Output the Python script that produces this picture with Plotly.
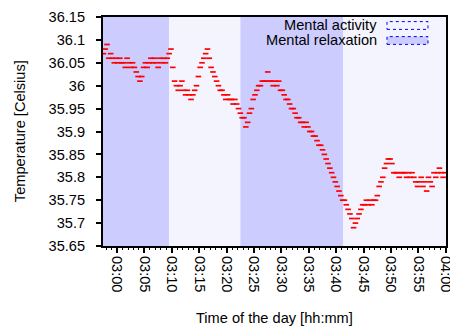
import pandas as pd
import plotly.graph_objects as go

DAY = "2000-01-01 "

# Skin temperature readings, one every 20 s starting at 02:57:30
temps = [
    36.07, 36.08,
    36.09, 36.06, 36.07,  # 02:58
    36.06, 36.05, 36.06,  # 02:59
    36.05, 36.06, 36.05,  # 03:00
    36.05, 36.04, 36.06,  # 03:01
    36.05, 36.04, 36.05,  # 03:02
    36.04, 36.03, 36.02,  # 03:03
    36.01, 36.02, 36.04,  # 03:04
    36.05, 36.04, 36.05,  # 03:05
    36.06, 36.05, 36.06,  # 03:06
    36.05, 36.04, 36.06,  # 03:07
    36.05, 36.06, 36.05,  # 03:08
    36.06, 36.07, 36.08,  # 03:09
    36.04, 36.01, 36.00,  # 03:10
    35.99, 36.00, 36.01,  # 03:11
    35.99, 35.98, 35.99,  # 03:12
    35.98, 35.97, 35.98,  # 03:13
    35.99, 36.00, 36.02,  # 03:14
    36.04, 36.05, 36.06,  # 03:15
    36.07, 36.08, 36.06,  # 03:16
    36.04, 36.03, 36.02,  # 03:17
    36.01, 36.00, 35.99,  # 03:18
    35.99, 35.98, 35.97,  # 03:19
    35.98, 35.97, 35.97,  # 03:20
    35.96, 35.97, 35.96,  # 03:21
    35.95, 35.94, 35.93,  # 03:22
    35.93, 35.91, 35.92,  # 03:23
    35.94, 35.95, 35.97,  # 03:24
    35.98, 35.99, 36.00,  # 03:25
    36.00, 36.01, 36.01,  # 03:26
    36.01, 36.03, 36.01,  # 03:27
    36.01, 36.00, 36.01,  # 03:28
    36.00, 36.01, 35.99,  # 03:29
    35.99, 35.98, 35.97,  # 03:30
    35.97, 35.96, 35.95,  # 03:31
    35.95, 35.94, 35.93,  # 03:32
    35.93, 35.92, 35.92,  # 03:33
    35.91, 35.92, 35.91,  # 03:34
    35.90, 35.90, 35.89,  # 03:35
    35.89, 35.88, 35.87,  # 03:36
    35.87, 35.86, 35.85,  # 03:37
    35.84, 35.83, 35.82,  # 03:38
    35.81, 35.80, 35.79,  # 03:39
    35.78, 35.77, 35.76,  # 03:40
    35.75, 35.75, 35.74,  # 03:41
    35.73, 35.72, 35.71,  # 03:42
    35.69, 35.70, 35.71,  # 03:43
    35.72, 35.73, 35.74,  # 03:44
    35.74, 35.75, 35.74,  # 03:45
    35.75, 35.74, 35.75,  # 03:46
    35.75, 35.76, 35.78,  # 03:47
    35.79, 35.80, 35.82,  # 03:48
    35.83, 35.84, 35.84,  # 03:49
    35.83, 35.81, 35.81,  # 03:50
    35.81, 35.80, 35.81,  # 03:51
    35.81, 35.81, 35.80,  # 03:52
    35.81, 35.80, 35.81,  # 03:53
    35.80, 35.79, 35.78,  # 03:54
    35.79, 35.80, 35.78,  # 03:55
    35.79, 35.77, 35.80,  # 03:56
    35.79, 35.78, 35.81,  # 03:57
    35.80, 35.81, 35.82,  # 03:58
    35.81, 35.80, 35.81,  # 03:59
]
sample_start = "02:57:30"
sample_step = "20s"

# Experiment phases
phase_starts = ["02:57:26", "03:09:30", "03:22:30", "03:41:15"]
phase_ends = ["03:09:30", "03:22:30", "03:41:15", "04:00:02"]
phase_kinds = ["relax", "active", "relax", "active"]

phase_names = {"active": "Mental activity", "relax": "Mental relaxation"}
phase_colors = {"active": "#f4f4ff", "relax": "#ccccff"}

y_ticks = [35.65, 35.7, 35.75, 35.8, 35.85, 35.9, 35.95, 36.0, 36.05, 36.1, 36.15]
y_labels = ["35.65", "35.7", "35.75", "35.8", "35.85", "35.9", "35.95", "36", "36.05", "36.1", "36.15"]
x_ticks = ["03:00", "03:05", "03:10", "03:15", "03:20", "03:25", "03:30",
           "03:35", "03:40", "03:45", "03:50", "03:55", "04:00"]

times = pd.date_range(DAY + sample_start, periods=len(temps), freq=sample_step)

FONT = "Liberation Sans, Arial, sans-serif"
FS = 14.6

fig = go.Figure()

shapes = []
for s, e, k in zip(phase_starts, phase_ends, phase_kinds):
    shapes.append(dict(type="rect", xref="x", yref="paper", x0=DAY + s, x1=DAY + e,
                       y0=0, y1=1, fillcolor=phase_colors[k], line_width=0, layer="below"))

# Key: label on the left, dotted sample box on the right
legend_order = ["active", "relax"]
key_y = [0.9629, 0.8974]
for k, yc in zip(legend_order, key_y):
    shapes.append(dict(type="rect", xref="paper", yref="paper", x0=0.828, x1=0.9475,
                       y0=yc - 0.017, y1=yc + 0.017, fillcolor=phase_colors[k],
                       line=dict(color="#0000ff", width=1, dash="dot")))

fig.add_trace(go.Scatter(
    x=times, y=temps, mode="markers",
    marker=dict(symbol="line-ew", size=4, color="#ff0000",
                line=dict(color="#ff0000", width=1.7)),
    showlegend=False, hoverinfo="skip",
))

annotations = []
for k, yc in zip(legend_order, key_y):
    annotations.append(dict(xref="paper", yref="paper", x=0.8047, y=yc, text=phase_names[k],
                            showarrow=False, xanchor="right", yanchor="middle",
                            font=dict(family=FONT, size=FS, color="#000")))
annotations.append(dict(xref="paper", yref="paper", x=0.5, y=-0.315,
                        text="Time of the day [hh:mm]", showarrow=False,
                        xanchor="center", yanchor="middle",
                        font=dict(family=FONT, size=FS, color="#000")))
annotations.append(dict(xref="paper", yref="paper", x=-0.243, y=0.5,
                        text="Temperature [Celsius]", showarrow=False, textangle=-90,
                        xanchor="center", yanchor="middle",
                        font=dict(family=FONT, size=FS, color="#000")))

fig.update_layout(
    width=450, height=327,
    margin=dict(l=103, r=4, t=17, b=81, autoexpand=False),
    paper_bgcolor="white", plot_bgcolor="white",
    shapes=shapes, annotations=annotations,
    font=dict(family=FONT, size=FS, color="#000"),
    showlegend=False,
)
fig.update_xaxes(
    type="date", range=[DAY + phase_starts[0], DAY + phase_ends[-1]],
    tickvals=[DAY + t for t in x_ticks], ticktext=x_ticks, tickangle=90,
    ticklabeloverflow="allow", automargin=False,
    ticks="outside", ticklen=5, tickwidth=1.5, tickcolor="#000",
    minor=dict(dtick=60000, ticks="outside", ticklen=2, tickwidth=1, tickcolor="#000"),
    showline=True, linecolor="#000", linewidth=2, mirror=True,
    showgrid=False, zeroline=False,
)
fig.update_yaxes(
    range=[35.65, 36.15], tickvals=y_ticks, ticktext=y_labels,
    ticks="outside", ticklen=5, tickwidth=1.5, tickcolor="#000",
    ticklabelstandoff=8, automargin=False,
    showline=True, linecolor="#000", linewidth=2, mirror=True,
    showgrid=False, zeroline=False,
)

fig.write_html("out.html")
